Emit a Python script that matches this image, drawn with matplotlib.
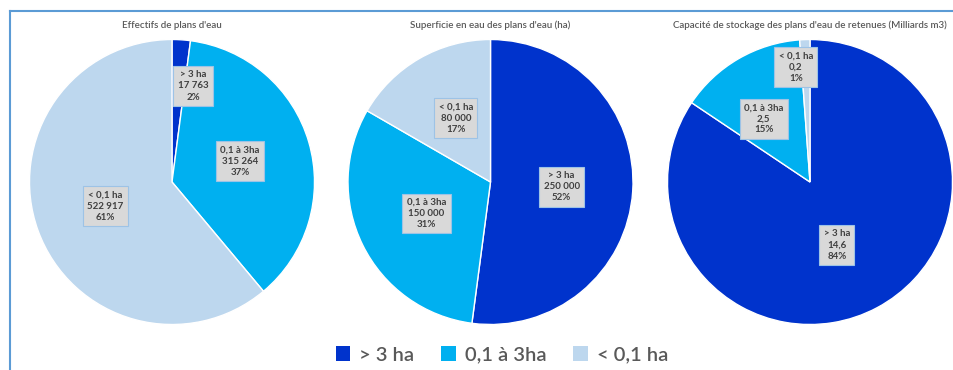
import numpy as np
from matplotlib import pyplot as plt
from matplotlib.patches import Patch
from matplotlib.lines import Line2D

# data
categories = ['> 3 ha', '0,1 à 3ha', '< 0,1 ha']
titles = ["Effectifs de plans d'eau",
          "Superficie en eau des plans d'eau (ha)",
          "Capacité de stockage des plans d'eau de retenues (Milliards m3)"]
effectifs = [17763, 315264, 522917]
superficie = [250000, 150000, 80000]
capacite = [14.6, 2.5, 0.2]
pct_effectifs = [2, 37, 61]
pct_superficie = [52, 31, 17]
pct_capacite = [84, 15, 1]

colors = ['#0033CC', '#00B0F0', '#BDD7EE']

def fmt_int(v):
    return f'{v:,}'.replace(',', ' ')

def fmt_dec(v):
    return f'{v:.1f}'.replace('.', ',')

series = [
    (effectifs, pct_effectifs, fmt_int),
    (superficie, pct_superficie, fmt_int),
    (capacite, pct_capacite, fmt_dec),
]
# label placement (radius, angle nudge in deg) per wedge, Excel "best fit"
label_pos = [
    [(0.69, -8.6), (0.50, 0.8), (0.50, 0.0)],
    [(0.50, 0.0), (0.50, 0.0), (0.51, -1.5)],
    [(0.48, -5.0), (0.55, 6.0), (0.81, 5.0)],
]

plt.rcParams['font.family'] = ['Lato', 'DejaVu Sans']
W, H = 954, 370
fig = plt.figure(figsize=(W / 100, H / 100), dpi=100)

centers_px = [(172, 182), (490.5, 182), (810, 182)]
R = 142.5

for i, (vals, pcts, fmt) in enumerate(series):
    cx, cy = centers_px[i]
    ax = fig.add_axes([(cx - R) / W, 1 - (cy + R) / H, 2 * R / W, 2 * R / H])
    wedges, _ = ax.pie(vals, colors=colors, startangle=90, counterclock=False,
                       wedgeprops=dict(edgecolor='white', linewidth=1))
    ax.set_xlim(-1, 1)
    ax.set_ylim(-1, 1)
    ax.set_aspect('equal')
    ax.axis('off')
    for j, w in enumerate(wedges):
        r, nudge = label_pos[i][j]
        ang = np.deg2rad((w.theta1 + w.theta2) / 2 + nudge)
        txt = f'{categories[j]}\n{fmt(vals[j])}\n{pcts[j]}%'
        ax.text(r * np.cos(ang), r * np.sin(ang), txt, ha='center', va='center',
                fontsize=7, fontweight='bold', color='#404040', linespacing=1.3,
                bbox=dict(boxstyle='square,pad=0.45', facecolor='#D9D9D9',
                          edgecolor='#9DC3E6', linewidth=0.8))
    fig.text(cx / W, 1 - 25 / H, titles[i], ha='center', va='center',
             fontsize=7, fontweight='semibold', color='#595959')

# frame lines
fig.add_artist(Line2D([10 / W, 10 / W], [0, 1 - 11 / H], transform=fig.transFigure,
                      color='#5B9BD5', linewidth=1.5))
fig.add_artist(Line2D([10 / W, 1], [1 - 11 / H, 1 - 11 / H], transform=fig.transFigure,
                      color='#5B9BD5', linewidth=1.5))

handles = [Patch(facecolor=c, edgecolor='none') for c in colors]
leg = fig.legend(handles, categories, loc='center', bbox_to_anchor=(502 / W, 1 - 355 / H),
                 ncol=3, frameon=False, fontsize=14.5, handlelength=0.7, handleheight=0.7,
                 handletextpad=0.45, columnspacing=1.35,
                 prop=dict(size=14.5, weight='semibold'))
for t in leg.get_texts():
    t.set_color('#595959')

fig.savefig('out.png', dpi=100, facecolor='white')
